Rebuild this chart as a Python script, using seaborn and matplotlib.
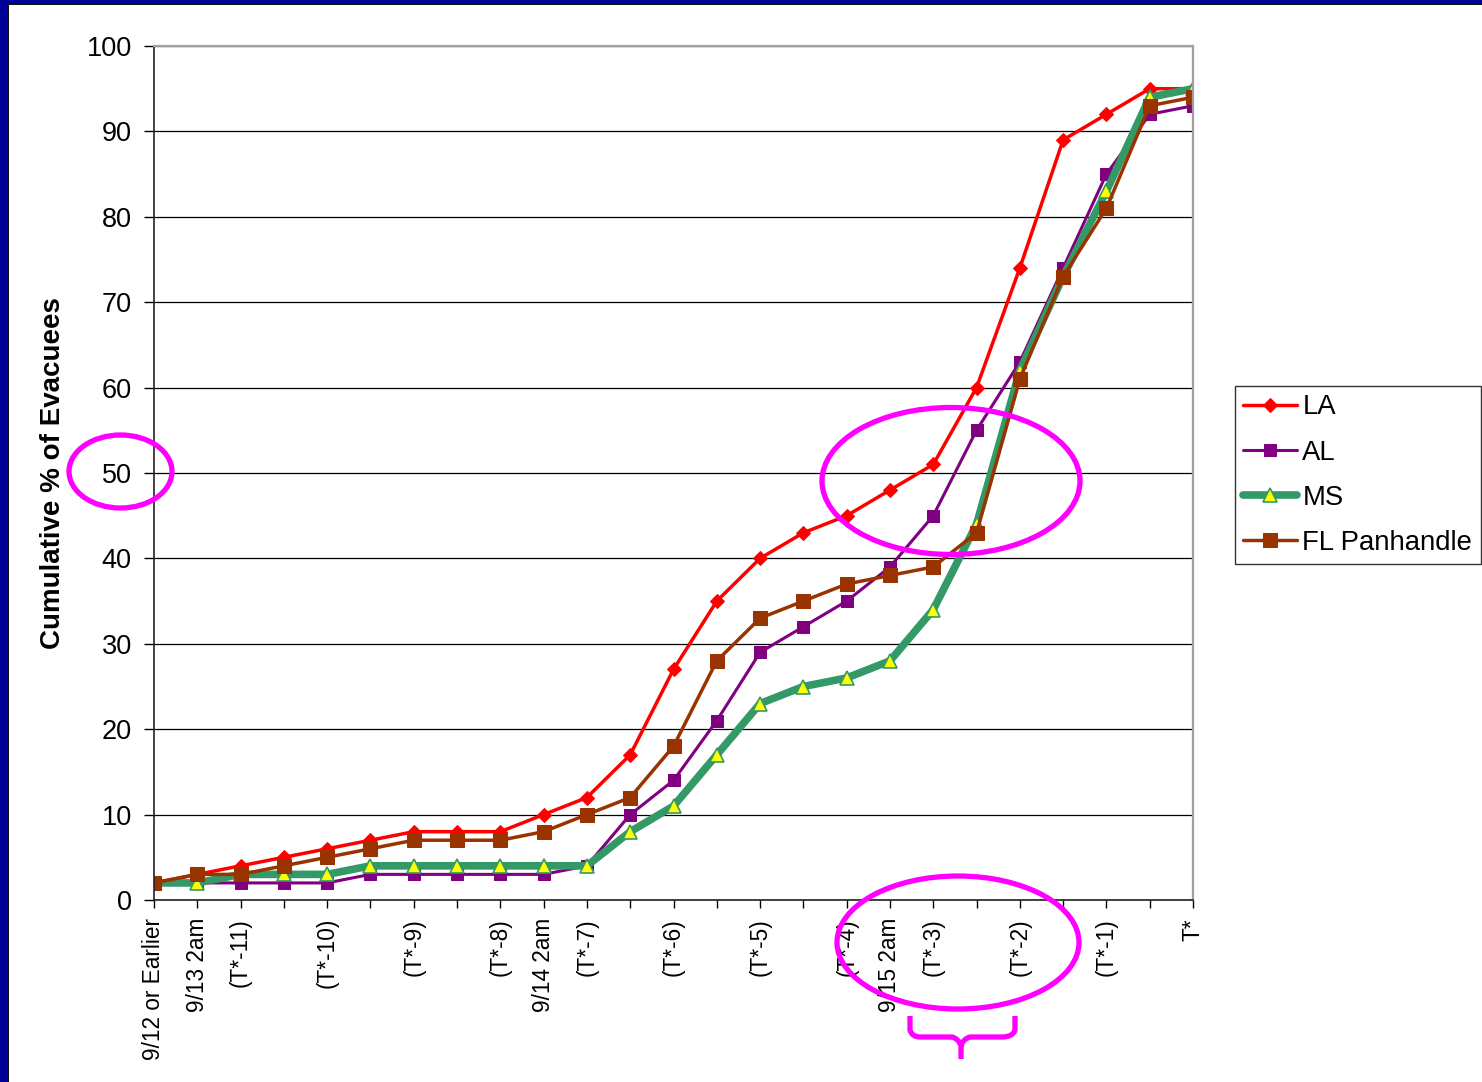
import numpy as np
import matplotlib
matplotlib.use("Agg")
import matplotlib.pyplot as plt
import seaborn as sns
from matplotlib.patches import Ellipse, Rectangle, PathPatch
from matplotlib.path import Path

# --- data ---
x_labels = ["9/12 or Earlier", "9/13 2am", "(T*-11)", "", "(T*-10)", "", "(T*-9)", "",
            "(T*-8)", "9/14 2am", "(T*-7)", "", "(T*-6)", "", "(T*-5)", "", "(T*-4)",
            "9/15 2am", "(T*-3)", "", "(T*-2)", "", "(T*-1)", "", "T*"]

la = [2, 3, 4, 5, 6, 7, 8, 8, 8, 10, 12, 17, 27, 35, 40, 43, 45, 48, 51, 60, 74, 89, 92, 95, 95]
al = [2, 2, 2, 2, 2, 3, 3, 3, 3, 3, 4, 10, 14, 21, 29, 32, 35, 39, 45, 55, 63, 74, 85, 92, 93]
ms = [2, 2, 3, 3, 3, 4, 4, 4, 4, 4, 4, 8, 11, 17, 23, 25, 26, 28, 34, 44, 62, 73, 83, 94, 95]
fl = [2, 3, 3, 4, 5, 6, 7, 7, 7, 8, 10, 12, 18, 28, 33, 35, 37, 38, 39, 43, 61, 73, 81, 93, 94]

series_names = ["LA", "AL", "MS", "FL Panhandle"]

W, H = 1482, 1082


def px(x, y):
    # pixel position (from top-left) -> figure fraction
    return x / W, 1 - y / H


sns.set_style("white")
plt.rcParams['font.family'] = ['Liberation Sans', 'DejaVu Sans']
plt.rcParams.update({"text.color": "black", "axes.labelcolor": "black",
                     "xtick.color": "black", "ytick.color": "black"})

fig = plt.figure(figsize=(W / 100, H / 100), dpi=100)
l, t = px(154, 46)
r, b = px(1193, 900)
ax = fig.add_axes([l, b, r - l, t - b])

pos = np.arange(len(x_labels))

styles = [
    dict(color="#FF0000", lw=2.5, marker="D", ms=7.5, mfc="#FF0000", mec="#FF0000"),
    dict(color="#800080", lw=2.2, marker="s", ms=8, mfc="#800080", mec="#800080"),
    dict(color="#339966", lw=5.5, marker="^", ms=9.5, mfc="#FFFF00", mec="#339966", mew=1.2),
    dict(color="#993300", lw=2.5, marker="s", ms=10, mfc="#993300", mec="#993300"),
]

for name, vals, st in zip(series_names, [la, al, ms, fl], styles):
    sns.lineplot(x=pos, y=vals, ax=ax, label=name, **st)

ax.set_xlim(0, 24)
ax.set_ylim(0, 100)
ax.set_yticks(range(0, 101, 10))
ax.set_xticks(pos)
ax.set_xticklabels(x_labels, rotation=90, fontsize=16.3, va="top", ha="center")
ax.tick_params(axis="y", labelsize=19.5, length=7, width=1, direction="out", pad=9, left=True)
ax.tick_params(axis="x", length=6, width=1, direction="out", pad=7, bottom=True)
ax.grid(axis="y", color="black", lw=0.9)
ax.set_axisbelow(True)

for side in ["left", "bottom"]:
    ax.spines[side].set_color("#222222")
    ax.spines[side].set_linewidth(1.2)
for side in ["top", "right"]:
    ax.spines[side].set_color("#A0A0A0")
    ax.spines[side].set_linewidth(1.6)

ax.set_ylabel("Cumulative % of Evacuees", fontsize=20, fontweight="bold", labelpad=15)
ax.set_xlabel("")

leg = ax.legend(loc="upper left", bbox_to_anchor=px(1235, 386), bbox_transform=fig.transFigure,
                fontsize=19.8, frameon=True, fancybox=False, edgecolor="black",
                handlelength=1.95, handletextpad=0.2, labelspacing=0.7, borderpad=0.3,
                numpoints=1, borderaxespad=0)
leg.get_frame().set_linewidth(1.0)

# --- magenta hand-drawn highlights ---
mag = "#FF00FF"
ellipses = [(120.5, 471.5, 103, 73), (951, 481, 258, 147), (958, 942.5, 242, 133)]
for cx, cy, ew, eh in ellipses:
    fig.patches.append(Ellipse(px(cx, cy), ew / W, eh / H, transform=fig.transFigure,
                               fill=False, ec=mag, lw=3.8, zorder=10))

brace_pts = [(910, 1016), (910, 1030), (912, 1037), (920, 1037), (952, 1037),
             (959, 1039), (961, 1046), (961, 1059),
             (961, 1046), (963, 1039), (970, 1037), (1002, 1037),
             (1013, 1037), (1015, 1030), (1015, 1016)]
codes = [Path.MOVETO, Path.LINETO, Path.CURVE3, Path.CURVE3, Path.LINETO,
         Path.CURVE3, Path.CURVE3, Path.LINETO,
         Path.MOVETO, Path.CURVE3, Path.CURVE3, Path.LINETO,
         Path.CURVE3, Path.CURVE3, Path.LINETO]
brace = Path([px(x, y) for x, y in brace_pts], codes)
fig.patches.append(PathPatch(brace, transform=fig.transFigure, fill=False, ec=mag, lw=3.8,
                             capstyle="butt", zorder=10))

# --- slide frame (blue band left and top) ---
fig.patches.append(Rectangle((0, 0), 8 / W, 1, transform=fig.transFigure, fc="#000099", ec="none"))
fig.patches.append(Rectangle((0, 1 - 4 / H), 1, 4 / H, transform=fig.transFigure, fc="#000099", ec="none"))
fig.patches.append(Rectangle((8 / W, 0), 1 / W, 1 - 4 / H, transform=fig.transFigure, fc="#111111", ec="none"))
fig.patches.append(Rectangle((8 / W, 1 - 5 / H), 1, 1 / H, transform=fig.transFigure, fc="#111111", ec="none"))

fig.savefig("out.png", dpi=100)
